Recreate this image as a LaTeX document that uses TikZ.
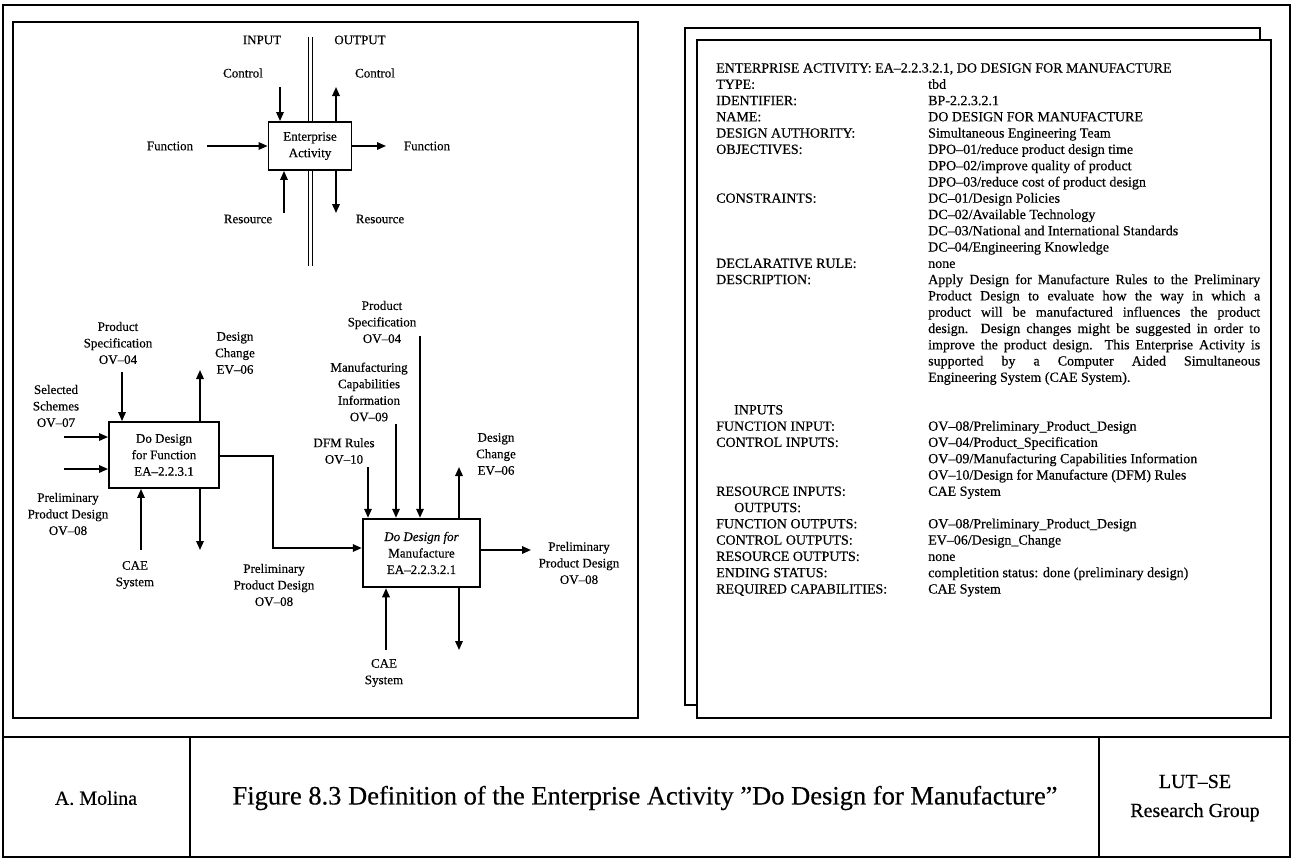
\documentclass[tikz,border=0pt]{standalone}
\usepackage{fontspec}
\setmainfont{Liberation Serif}[FakeBold=0.4]
\usetikzlibrary{arrows.meta}
\newlength\descw
\begin{document}
\begin{tikzpicture}[x=1pt,y=-1pt,
  frame/.style={draw, line width=1.9pt},
  lbl/.style={font=\fontsize{13}{16.5}\selectfont, align=center, inner sep=0pt},
  actbox/.style={draw, fill=white, line width=1.9pt, align=center, inner sep=0pt,
    font=\fontsize{13}{16.5}\selectfont},
  flow/.style={line width=1.6pt, -{Triangle[length=9pt,width=7.5pt]}},
  plain/.style={line width=1.5pt},
  key/.style={anchor=base west, inner sep=0pt, font=\fontsize{14}{16}\selectfont},
  foot/.style={inner sep=0pt, align=center, font=\fontsize{20}{29}\selectfont},
]
\useasboundingbox (0,0) rectangle (1293,860);
\setlength\descw{332pt}

% ---------- outer frame and footer ----------
\draw[frame] (3,5) rectangle (1290,857);
\coordinate (barL) at (3,737);
\coordinate (barR) at (1290,737);
\draw[frame] (barL) -- (barR);
\draw[frame] (190,737) -- (190,857);
\draw[frame] (1099,737) -- (1099,857);
\node[foot] (author) at (96,798) {A. Molina};
\node[foot, font=\fontsize{26.5}{29}\selectfont] (caption) at (645,798)
  {Figure 8.3 Definition of the Enterprise Activity "Do Design for Manufacture"};
\node[foot] (group) at (1195,798) {LUT–SE\\Research Group};

% ---------- left panel ----------
\draw[frame] (13,22) rectangle (638,718);

% generic activity (ICOM convention)
\draw[plain] (308.5,37) -- (308.5,266);
\draw[plain] (312.5,37) -- (312.5,266);
\node[actbox, minimum width=83pt, minimum height=48pt] (ea) at (310,146) {Enterprise\\Activity};
\node[lbl] (tin) at (262,40) {INPUT};
\node[lbl] (tout) at (360,40) {OUTPUT};
\node[lbl] (cin) at (243,73) {Control};
\node[lbl] (cout) at (375,73) {Control};
\node[lbl] (fin) at (170,146) {Function};
\node[lbl] (fout) at (427,146) {Function};
\node[lbl] (rin) at (248,219) {Resource};
\node[lbl] (rout) at (380,219) {Resource};
\coordinate (cinS) at (280,87);
\coordinate (coutE) at (336,87);
\coordinate (finS) at (207,146);
\coordinate (foutE) at (386,146);
\coordinate (rinS) at (284,213);
\coordinate (routE) at (336,213);
\draw[flow] (cinS) -- (cinS |- ea.north);
\draw[flow] (coutE |- ea.north) -- (coutE);
\draw[flow] (finS) -- (ea.west);
\draw[flow] (ea.east) -- (foutE);
\draw[flow] (rinS) -- (rinS |- ea.south);
\draw[flow] (routE |- ea.south) -- (routE);

% Do Design for Function
\node[actbox, minimum width=110pt, minimum height=66pt] (dff) at (164,455)
  {Do Design\\for Function\\EA–2.2.3.1};
\node[lbl] (ps1) at (118,343) {Product\\Specification\\OV–04};
\node[lbl] (dc1) at (235,353) {Design\\Change\\EV–06};
\node[lbl] (ss1) at (56,406) {Selected\\Schemes\\OV–07};
\node[lbl] (pp1) at (68,514) {Preliminary\\Product Design\\OV–08};
\node[lbl] (cae1) at (135,575) {CAE\\System};
\coordinate (ps1E) at (122,372);
\coordinate (dc1E) at (200,370);
\coordinate (ss1S) at (64,437);
\coordinate (pp1S) at (64,469);
\coordinate (cae1S) at (141,550);
\coordinate (out1E) at (200,550);
\draw[flow] (ps1E) -- (ps1E |- dff.north);
\draw[flow] (dc1E |- dff.north) -- (dc1E);
\draw[flow] (ss1S) -- (ss1S -| dff.west);
\draw[flow] (pp1S) -- (pp1S -| dff.west);
\draw[flow] (cae1S) -- (cae1S |- dff.south);
\draw[flow] (out1E |- dff.south) -- (out1E);

% Do Design for Manufacture
\node[actbox, line width=2.5pt, minimum width=117pt, minimum height=68pt] (dfm) at (421.5,553)
  {\textit{Do Design for}\\Manufacture\\EA–2.2.3.2.1};
\node[lbl] (pp2) at (274,585) {Preliminary\\Product Design\\OV–08};
\node[lbl] (ps2) at (382,322) {Product\\Specification\\OV–04};
\node[lbl] (mc2) at (369,392) {Manufacturing\\Capabilities\\Information\\OV–09};
\node[lbl] (dr2) at (344,451) {DFM Rules\\OV–10};
\node[lbl] (dc2) at (496,454) {Design\\Change\\EV–06};
\node[lbl] (po2) at (579,563) {Preliminary\\Product Design\\OV–08};
\node[lbl] (cae2) at (384,673) {CAE\\System};
\coordinate (link1) at (273,456);
\coordinate (link2) at (273,548);
\coordinate (dr2S) at (368,467);
\coordinate (mc2S) at (396,424);
\coordinate (ps2S) at (420,336);
\coordinate (dc2E) at (459,467);
\coordinate (po2E) at (531,550);
\coordinate (cae2S) at (386,650);
\coordinate (out2E) at (459,650);
\draw[flow] (link1 -| dff.east) -- (link1) -- (link2) -- (link2 -| dfm.west);
\draw[flow] (dr2S) -- (dr2S |- dfm.north);
\draw[flow] (mc2S) -- (mc2S |- dfm.north);
\draw[flow] (ps2S) -- (ps2S |- dfm.north);
\draw[flow] (dc2E |- dfm.north) -- (dc2E);
\draw[flow] (po2E -| dfm.east) -- (po2E);
\draw[flow] (cae2S) -- (cae2S |- dfm.south);
\draw[flow] (out2E |- dfm.south) -- (out2E);

% ---------- right panel: activity template sheets ----------
\draw[line width=1.5pt, fill=white] (685,28) rectangle (1260,705);
\draw[frame, fill=white] (697,40) rectangle (1271,718);

\node[key] (k0) at (716,72.5) {ENTERPRISE ACTIVITY: EA–2.2.3.2.1, DO DESIGN FOR MANUFACTURE};
\node[key] (k1) at (716,88.8) {TYPE:};
\node[key] (v1) at (928,88.8) {tbd};
\node[key] (k2) at (716,105.1) {IDENTIFIER:};
\node[key] (v2) at (928,105.1) {BP-2.2.3.2.1};
\node[key] (k3) at (716,121.3) {NAME:};
\node[key] (v3) at (928,121.3) {DO DESIGN FOR MANUFACTURE};
\node[key] (k4) at (716,137.6) {DESIGN AUTHORITY:};
\node[key] (v4) at (928,137.6) {Simultaneous Engineering Team};
\node[key] (k5) at (716,153.9) {OBJECTIVES:};
\node[key] (v5) at (928,153.9) {DPO–01/reduce product design time};
\node[key] (v6) at (928,170.2) {DPO–02/improve quality of product};
\node[key] (v7) at (928,186.5) {DPO–03/reduce cost of product design};
\node[key] (k8) at (716,202.7) {CONSTRAINTS:};
\node[key] (v8) at (928,202.7) {DC–01/Design Policies};
\node[key] (v9) at (928,219.0) {DC–02/Available Technology};
\node[key] (v10) at (928,235.3) {DC–03/National and International Standards};
\node[key] (v11) at (928,251.6) {DC–04/Engineering Knowledge};
\node[key] (k12) at (716,267.9) {DECLARATIVE RULE:};
\node[key] (v12) at (928,267.9) {none};
\node[key] (k13) at (716,284.1) {DESCRIPTION:};
\node[key] (d1) at (928,284.1) {\makebox[\descw][s]{Apply Design for Manufacture Rules to the Preliminary}};
\node[key] (d2) at (928,300.4) {\makebox[\descw][s]{Product Design to evaluate how the way in which a}};
\node[key] (d3) at (928,316.7) {\makebox[\descw][s]{product will be manufactured influences the product}};
\node[key] (d4) at (928,333.0) {\makebox[\descw][s]{design. Design changes might be suggested in order to}};
\node[key] (d5) at (928,349.3) {\makebox[\descw][s]{improve the product design. This Enterprise Activity is}};
\node[key] (d6) at (928,365.5) {\makebox[\descw][s]{supported by a Computer Aided Simultaneous}};
\node[key] (d7) at (928,381.8) {Engineering System (CAE System).};
\node[key] (k21) at (734,414.4) {INPUTS};
\node[key] (k22) at (716,430.7) {FUNCTION INPUT:};
\node[key] (v22) at (928,430.7) {OV–08/Preliminary\_Product\_Design};
\node[key] (k23) at (716,446.9) {CONTROL INPUTS:};
\node[key] (v23) at (928,446.9) {OV–04/Product\_Specification};
\node[key] (v24) at (928,463.2) {OV–09/Manufacturing Capabilities Information};
\node[key] (v25) at (928,479.5) {OV–10/Design for Manufacture (DFM) Rules};
\node[key] (k26) at (716,495.8) {RESOURCE INPUTS:};
\node[key] (v26) at (928,495.8) {CAE System};
\node[key] (k27) at (734,512.1) {OUTPUTS:};
\node[key] (k28) at (716,528.3) {FUNCTION OUTPUTS:};
\node[key] (v28) at (928,528.3) {OV–08/Preliminary\_Product\_Design};
\node[key] (k29) at (716,544.6) {CONTROL OUTPUTS:};
\node[key] (v29) at (928,544.6) {EV–06/Design\_Change};
\node[key] (k30) at (716,560.9) {RESOURCE OUTPUTS:};
\node[key] (v30) at (928,560.9) {none};
\node[key] (k31) at (716,577.2) {ENDING STATUS:};
\node[key] (v31) at (928,577.2) {completition status: done (preliminary design)};
\node[key] (k32) at (716,593.5) {REQUIRED CAPABILITIES:};
\node[key] (v32) at (928,593.5) {CAE System};
\end{tikzpicture}
\end{document}
